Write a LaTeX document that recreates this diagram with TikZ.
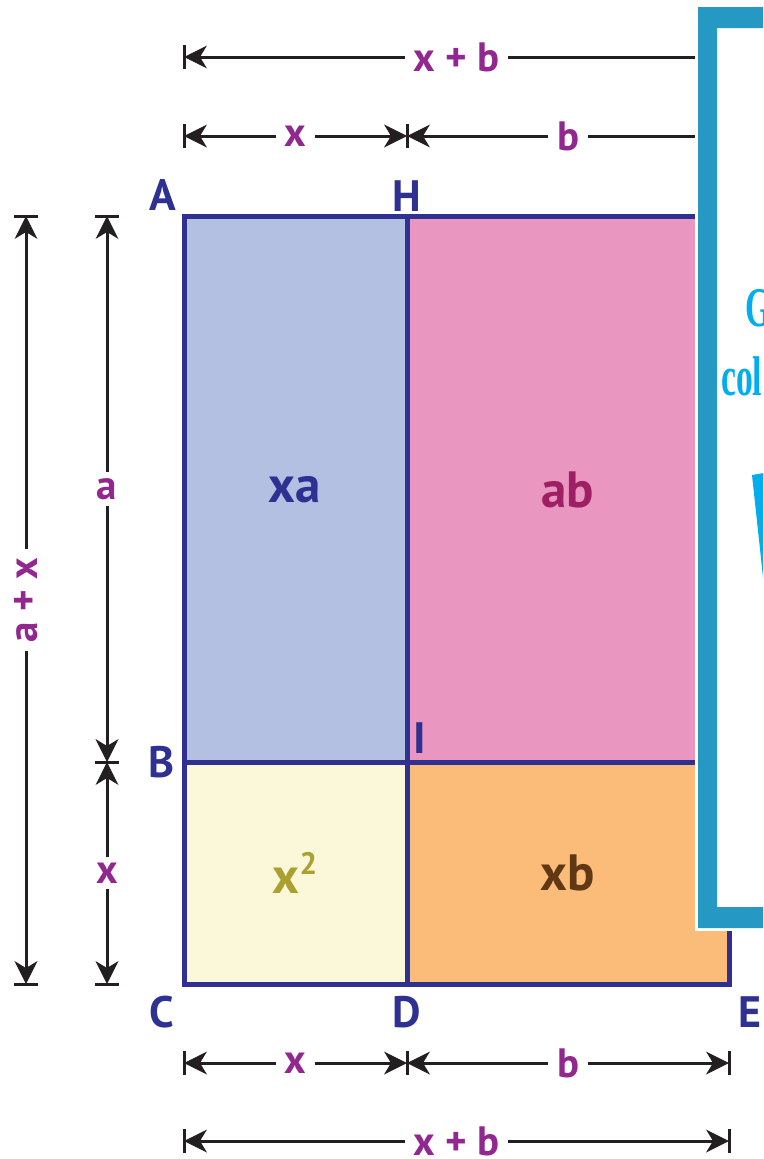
\documentclass[tikz,border=0pt]{standalone}
\usepackage{fontspec}
\setmainfont{PT Sans}
\newfontfamily\slabfont{Liberation Serif}
\usetikzlibrary{arrows.meta, positioning}

\definecolor{navy}{RGB}{46,49,146}
\definecolor{labpurple}{RGB}{146,39,143}
\definecolor{dimblack}{RGB}{35,31,32}
\definecolor{paleblue}{RGB}{179,192,225}
\definecolor{rosepink}{RGB}{233,150,193}
\definecolor{cream}{RGB}{250,248,216}
\definecolor{apricot}{RGB}{251,188,122}
\definecolor{maroon}{RGB}{158,31,99}
\definecolor{olive}{RGB}{170,160,50}
\definecolor{darkbrown}{RGB}{96,56,19}
\definecolor{framecol}{RGB}{38,152,196}
\definecolor{skycyan}{RGB}{0,174,239}

\begin{document}
\begin{tikzpicture}[x=1pt, y=-1pt,
  dim/.style={draw=dimblack, line width=3pt,
              {Stealth[length=23pt, width=23pt, inset=7pt, line width=0pt]}-{Stealth[length=23pt, width=23pt, inset=7pt, line width=0pt]}},
  tick/.style={draw=dimblack, line width=3pt},
  dimlbl/.style={fill=white, inner xsep=9pt, inner ysep=0pt, text=labpurple,
                 font=\fontsize{41}{41}\selectfont\bfseries},
  area/.style={text=#1, font=\fontsize{51}{51}\selectfont\bfseries},
  ptlbl/.style={text=navy, font=\fontsize{44}{44}\selectfont\bfseries},
  border/.style={draw=navy, line width=5pt},
  banner/.style={text=skycyan, anchor=west, inner sep=0pt}
]
\useasboundingbox (0,0) rectangle (763,1159);
\clip (0,0) rectangle (763,1159);

% ---- corner points ----
\coordinate (A)  at (184,216);
\coordinate (H)  at (407,216);
\coordinate (TR) at (729,216);
\coordinate (B)  at (184,762);
\coordinate (I)  at (407,762);
\coordinate (MR) at (729,762);
\coordinate (C)  at (184,984);
\coordinate (D)  at (407,984);
\coordinate (E)  at (729,984);

% ---- areas ----
\fill[paleblue] (A) rectangle (I);
\fill[rosepink] (H) rectangle (MR);
\fill[cream]    (B) rectangle (D);
\fill[apricot]  (I) rectangle (E);
\draw[border] (A) rectangle (E);
\draw[border] (H) -- (D);
\draw[border] (B) -- (MR);

\node[area=navy]      (xa) at (295,490) {xa};
\node[area=maroon]    (ab) at (568,490) {ab};
\node[area=olive]     (xx) at (295,873) {x\raisebox{0.36em}{\fontsize{31}{31}\selectfont\bfseries 2}};
\node[area=darkbrown] (xb) at (568,873) {xb};

% ---- point labels ----
\node[ptlbl] (lA) at (163,195)  {A};
\node[ptlbl] (lH) at (407,196)  {H};
\node[ptlbl] (lB) at (162,762)  {B};
\node[ptlbl] (lI) at (420,738)  {I};
\node[ptlbl] (lC) at (162,1012) {C};
\node[ptlbl] (lD) at (407,1012) {D};
\node[ptlbl] (lE) at (750,1012) {E};

% ---- dimension ends ----
\coordinate (t1a) at (184,57);   \coordinate (t1b) at (729,57);
\coordinate (t2a) at (184,136);  \coordinate (t2m) at (407,136);  \coordinate (t2b) at (729,136);
\coordinate (b1a) at (184,1063); \coordinate (b1m) at (407,1063); \coordinate (b1b) at (729,1063);
\coordinate (b2a) at (184,1141); \coordinate (b2b) at (729,1141);
\coordinate (l1a) at (26,216);   \coordinate (l1b) at (26,984);
\coordinate (l2a) at (107,216);  \coordinate (l2m) at (107,762);  \coordinate (l2b) at (107,984);

\foreach \p in {t1a,t1b,t2a,t2m,t2b,b1a,b1m,b1b,b2a,b2b}
  \draw[tick] ([yshift=-12pt]\p) -- ([yshift=12pt]\p);
\foreach \p in {l1a,l1b,l2a,l2m,l2b}
  \draw[tick] ([xshift=-12pt]\p) -- ([xshift=12pt]\p);

% ---- horizontal dimensions ----
\draw[dim] (t1a) -- node[dimlbl] (dt1) {x + b} (t1b);
\draw[dim] (t2a) -- node[dimlbl] (dt2) {x} (t2m);
\draw[dim] (t2m) -- node[dimlbl] (dt3) {b} (t2b);
\draw[dim] (b1a) -- node[dimlbl] (db1) {x} (b1m);
\draw[dim] (b1m) -- node[dimlbl] (db2) {b} (b1b);
\draw[dim] (b2a) -- node[dimlbl] (db3) {x + b} (b2b);

% ---- vertical dimensions ----
\draw[dim] (l1a) -- node[dimlbl, rotate=90] (dl1) {a + x} (l1b);
\draw[dim] (l2a) -- node[dimlbl, inner ysep=6pt] (dl2) {a} (l2m);
\draw[dim] (l2m) -- node[dimlbl, inner ysep=6pt] (dl3) {x} (l2b);

% ---- side panel ----
\fill[white] (695,4) rectangle (800,931);
\fill[framecol, even odd rule] (698,7) rectangle (800,928) (717,28) rectangle (800,907);
\node[banner] (bG) at (745,308)
  {\scalebox{0.6}[1]{\slabfont\bfseries\fontsize{56}{56}\selectfont G}};
\node[banner] (bcol) at (721,376)
  {\scalebox{0.6}[1]{\slabfont\bfseries\fontsize{56}{56}\selectfont col}};
\fill[skycyan] (752,475) -- (770,472) -- (770,642) -- cycle;

\end{tikzpicture}
\end{document}
